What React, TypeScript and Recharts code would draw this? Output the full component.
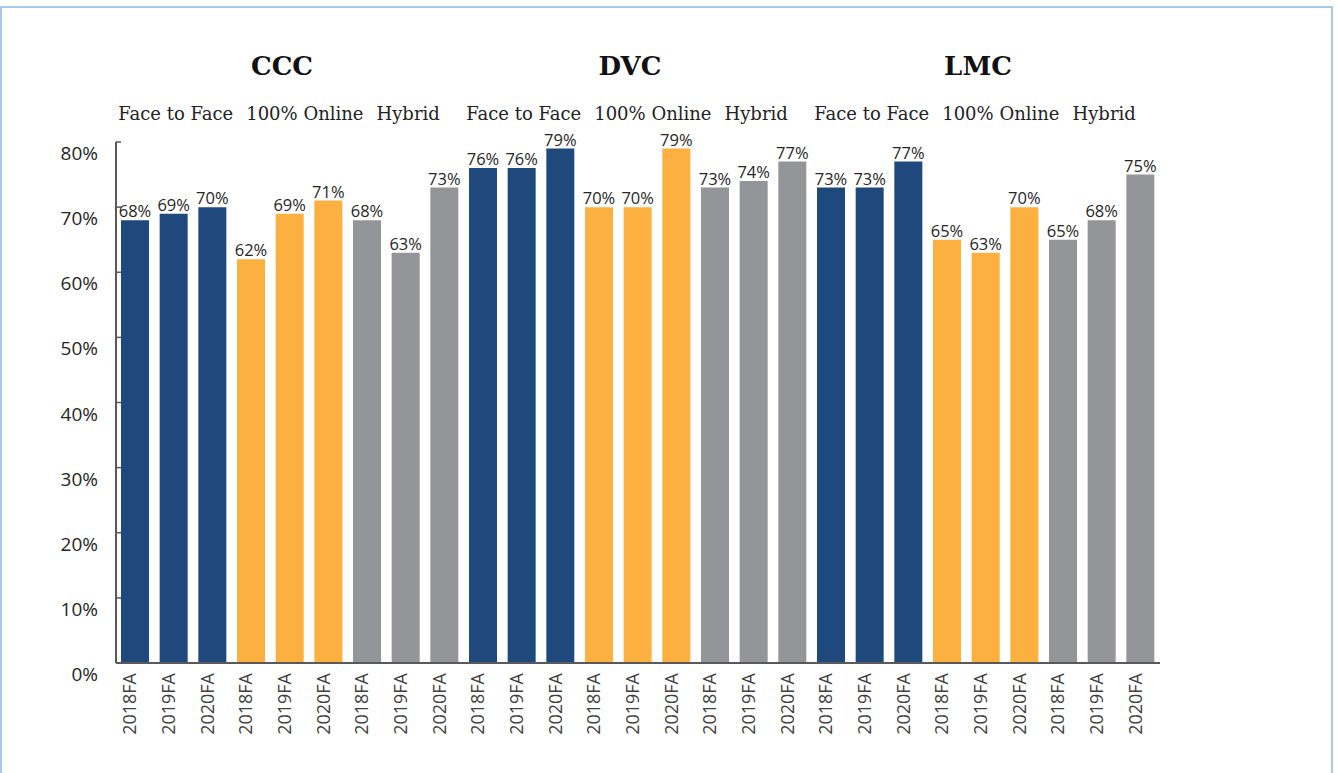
import React from "react";
import { BarChart, Bar, XAxis, YAxis, Cell, LabelList } from "recharts";

const colleges = ["CCC", "DVC", "LMC"];
const modes = ["Face to Face", "100% Online", "Hybrid"];
const terms = ["2018FA", "2019FA", "2020FA"];

// success rate per college: 3 modes x 3 terms, in order
const cccValues = [68, 69, 70, 62, 69, 71, 68, 63, 73];
const dvcValues = [76, 76, 79, 70, 70, 79, 73, 74, 77];
const lmcValues = [73, 73, 77, 65, 63, 70, 65, 68, 75];

const yTicks = [0, 10, 20, 30, 40, 50, 60, 70, 80];
const modeColors = ["#1F497D", "#FBB040", "#949598"];

const collegeValues = [cccValues, dvcValues, lmcValues];

const rows = colleges.flatMap((college, c) =>
  collegeValues[c].map((value, i) => ({
    key: `${college}-${i}`,
    college,
    slot: i,
    mode: Math.floor(i / terms.length),
    term: terms[i % terms.length],
    value,
  }))
);

const sansFont = "'Open Sans', 'Noto Sans', sans-serif";
const serifFont = "'DejaVu Serif', serif";

function YTick(props: any) {
  const { x, y, payload } = props;
  return (
    <g>
      <line x1={x} x2={x + 5} y1={y} y2={y} stroke="#595959" strokeWidth={1.5} />
      <text x={x - 18} y={y + 18} textAnchor="end" fontSize={19} fill="#262626" fontFamily={sansFont}>
        {`${payload.value}%`}
      </text>
    </g>
  );
}

function TermTick(props: any) {
  const { x, y, index } = props;
  const row = rows[index];
  const tx = x + 1;
  const ty = y + 10;
  return (
    <text
      x={tx}
      y={ty}
      transform={`rotate(-90, ${tx}, ${ty})`}
      textAnchor="end"
      fontSize={18}
      fill="#404040"
      fontFamily={sansFont}
    >
      {row.term}
    </text>
  );
}

// college name and mode captions, drawn once above the middle bar of each college
function CollegeTick(props: any) {
  const { x, y, index } = props;
  const row = rows[index];
  if (!row || row.slot !== 4) return null;
  return (
    <g>
      <text x={x - 8} y={y - 67} textAnchor="middle" fontSize={26} fontWeight="bold" fill="#111" fontFamily={serifFont}>
        {row.college}
      </text>
      <text x={x - 11} y={y - 22} textAnchor="middle" fontSize={18} fill="#222" fontFamily={serifFont}>
        {modes.map((m, i) => (
          <tspan key={m} dx={i === 0 ? 0 : 13}>
            {m}
          </tspan>
        ))}
      </text>
    </g>
  );
}

export default function App() {
  return (
    <div
      style={{
        position: "absolute",
        left: 0,
        top: 0,
        width: 1338,
        height: 773,
        background: "#fff",
        overflow: "hidden",
      }}
    >
      <div
        style={{
          position: "absolute",
          left: 0,
          top: 6,
          width: 1329,
          height: 800,
          border: "2px solid #A9C9EA",
        }}
      />
      <div style={{ position: "absolute", left: 0, top: 0 }}>
        <BarChart width={1338} height={773} data={rows} margin={{ top: 141, right: 178, left: 56, bottom: 0 }}>
          <XAxis
            dataKey="key"
            height={110}
            interval={0}
            tickSize={0}
            tickMargin={0}
            tickLine={false}
            axisLine={{ stroke: "#595959", strokeWidth: 2 }}
            tick={<TermTick />}
          />
          <XAxis
            xAxisId="top"
            dataKey="key"
            orientation="top"
            height={1}
            interval={0}
            tickSize={0}
            tickMargin={0}
            tickLine={false}
            axisLine={false}
            tick={<CollegeTick />}
          />
          <YAxis
            width={60}
            domain={[0, 80]}
            ticks={yTicks}
            interval={0}
            tickSize={0}
            tickMargin={0}
            tickLine={false}
            axisLine={{ stroke: "#595959", strokeWidth: 2 }}
            tick={<YTick />}
          />
          <Bar dataKey="value" barSize={28} isAnimationActive={false}>
            {rows.map((r) => (
              <Cell key={r.key} fill={modeColors[r.mode]} />
            ))}
            <LabelList
              dataKey="value"
              position="top"
              offset={3}
              formatter={(v: any) => `${v}%`}
              fontSize={16.5}
              fill="#262626"
              fontFamily={sansFont}
            />
          </Bar>
          {/* invisible series that binds the caption axis to the same categories */}
          <Bar xAxisId="top" dataKey="value" fill="none" legendType="none" isAnimationActive={false} />
        </BarChart>
      </div>
    </div>
  );
}
